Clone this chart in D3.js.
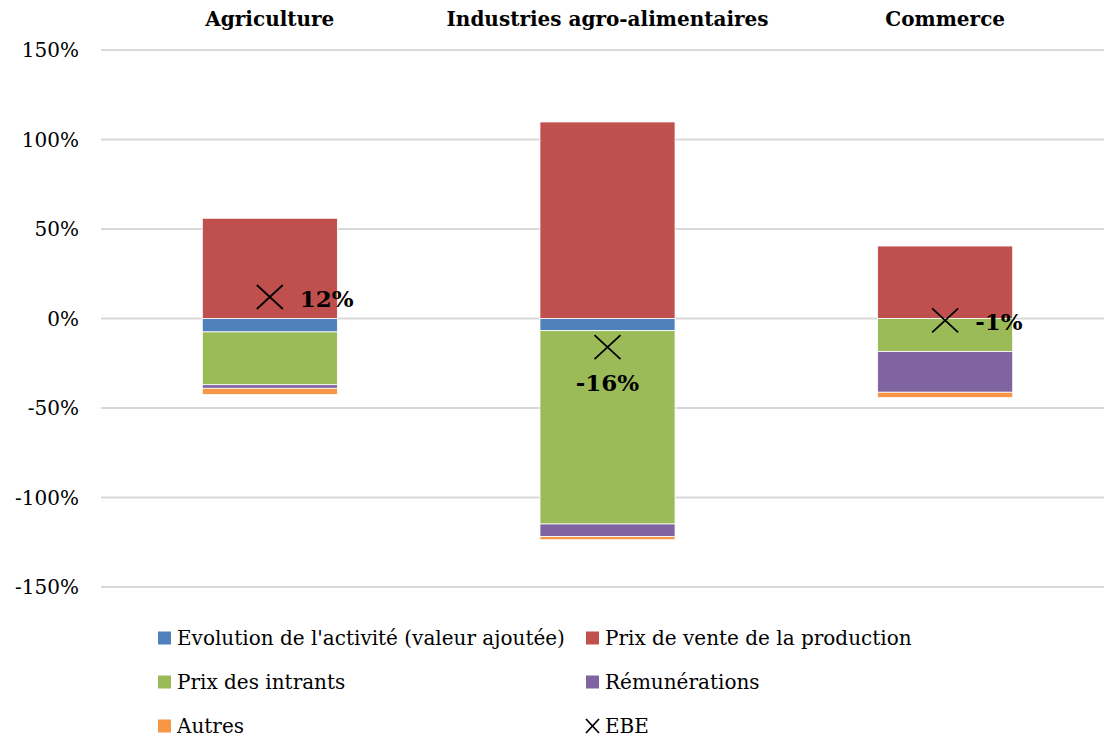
<!DOCTYPE html>
<html lang="fr">
<head>
<meta charset="UTF-8">
<title>Décomposition de l'évolution de l'EBE</title>
<script src="https://d3js.org/d3.v7.min.js"></script>
<style>
    body { margin: 0; background: #fff; }
    svg { font-family: "DejaVu Serif", serif; }
    .grid line { stroke: #d9d9d9; stroke-width: 2px; }
    .tick-label { font-size: 20px; fill: #000; }
    .cat-title { font-size: 20px; font-weight: bold; }
    .ebe-label { font-size: 23px; font-weight: bold; }
    .legend text { font-size: 20px; }
</style>
</head>
<body>
<div id="chart"></div>
<script>
// categories and series (values in %)
const categories = ["Agriculture", "Industries agro-alimentaires", "Commerce"];
const seriesNames = ["Evolution de l'activité (valeur ajoutée)", "Prix de vente de la production",
    "Prix des intrants", "Rémunérations", "Autres"];
const activite = [-7.5, -6.8, 0];
const prixVente = [56, 109.8, 40.5];
const prixIntrants = [-29.5, -108, -18.5];
const remunerations = [-2, -7, -22.7];
const autres = [-3.5, -1.8, -3];
const ebe = [12, -16, -1];
const yTicks = [150, 100, 50, 0, -50, -100, -150];
const colors = ["#4f81bd", "#c0504d", "#9bbb59", "#8064a2", "#f79646"];

const width = 1104, height = 738;
const svg = d3.select("#chart").append("svg")
    .attr("width", width)
    .attr("height", height);

const x = d3.scaleBand().domain(categories).range([101, 1114]).paddingInner(0.6).paddingOuter(0.3);
const y = d3.scaleLinear().domain([-150, 150]).range([587, 50]);

// gridlines
svg.append("g").attr("class", "grid")
    .selectAll("line").data(yTicks).join("line")
    .attr("x1", 101).attr("x2", width)
    .attr("y1", d => y(d)).attr("y2", d => y(d));

// y tick labels
svg.append("g").selectAll("text").data(yTicks).join("text")
    .attr("class", "tick-label")
    .attr("x", 79).attr("y", d => y(d))
    .attr("dy", "0.35em")
    .attr("text-anchor", "end")
    .text(d => d + "%");

// category titles on top
svg.append("g").selectAll("text").data(categories).join("text")
    .attr("class", "cat-title")
    .attr("x", d => x(d) + x.bandwidth() / 2)
    .attr("y", 26)
    .attr("text-anchor", "middle")
    .text(d => d);

// stacked bars
const rows = categories.map((c, i) => ({
    cat: c, s0: activite[i], s1: prixVente[i], s2: prixIntrants[i], s3: remunerations[i], s4: autres[i]
}));
const stack = d3.stack().keys(["s0", "s1", "s2", "s3", "s4"]).offset(d3.stackOffsetDiverging);
const layers = stack(rows);

svg.append("g").selectAll("g").data(layers).join("g")
    .attr("fill", (d, i) => colors[i])
    .selectAll("rect").data(d => d).join("rect")
    .attr("x", d => x(d.data.cat))
    .attr("width", x.bandwidth())
    .attr("y", d => y(Math.max(d[0], d[1])))
    .attr("height", d => Math.abs(y(d[0]) - y(d[1])))
    .attr("stroke", "#fff")
    .attr("stroke-width", 0.8);

// EBE markers
const ebeG = svg.append("g");
categories.forEach((c, i) => {
    const cx = x(c) + x.bandwidth() / 2, cy = y(ebe[i]);
    ebeG.append("path")
        .attr("d", `M${cx - 13},${cy - 12}L${cx + 13},${cy + 12}M${cx - 13},${cy + 12}L${cx + 13},${cy - 12}`)
        .attr("stroke", "#000").attr("stroke-width", 1.8).attr("fill", "none");
    const below = i === 1;
    ebeG.append("text")
        .attr("class", "ebe-label")
        .attr("x", below ? cx : cx + 30)
        .attr("y", below ? cy + 36 : cy + 2)
        .attr("dy", "0.35em")
        .attr("text-anchor", below ? "middle" : "start")
        .text(ebe[i] + "%");
});

// legend
const legendItems = seriesNames.map((n, i) => ({ name: n, color: colors[i] })).concat([{ name: "EBE", marker: true }]);
const legend = svg.append("g").attr("class", "legend");
legendItems.forEach((d, i) => {
    const lx = i % 2 === 0 ? 158 : 586;
    const ly = 638 + Math.floor(i / 2) * 44;
    const g = legend.append("g").attr("transform", `translate(${lx},${ly})`);
    if (d.marker) {
        g.append("path").attr("d", "M0,-7L13,7M0,7L13,-7")
            .attr("stroke", "#000").attr("stroke-width", 1.8);
    } else {
        g.append("rect").attr("x", 0).attr("y", -6.5).attr("width", 13).attr("height", 13).attr("fill", d.color);
    }
    g.append("text").attr("x", 19).attr("y", 0).attr("dy", "0.35em").text(d.name);
});
</script>
</body>
</html>
